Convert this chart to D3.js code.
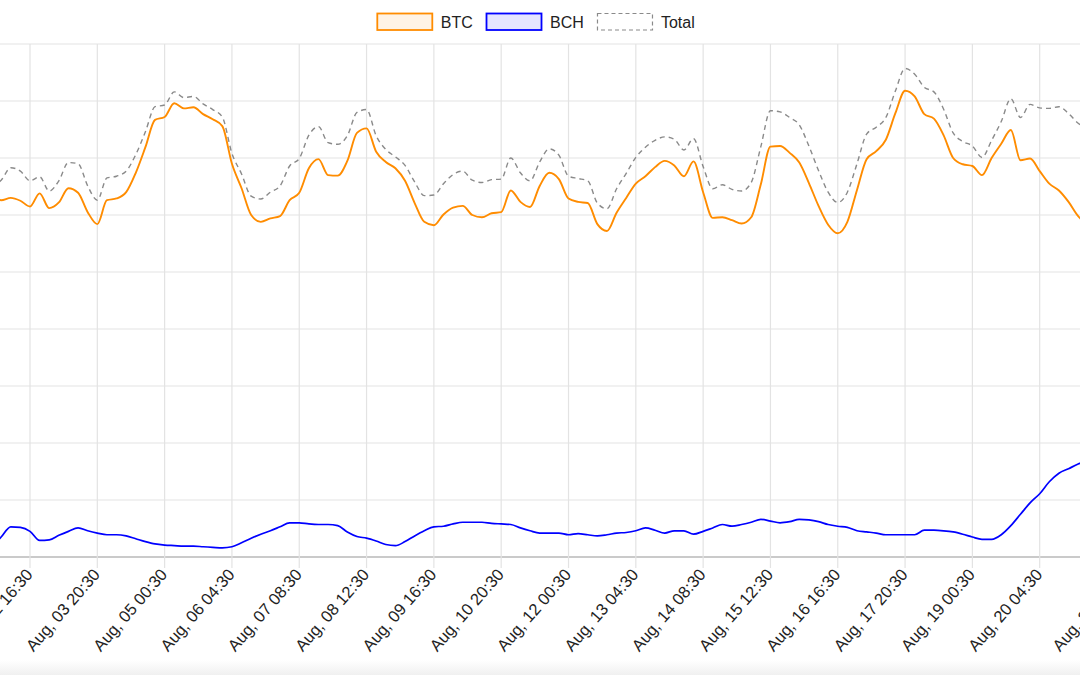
<!DOCTYPE html>
<html>
<head>
<meta charset="utf-8">
<script src="https://cdn.jsdelivr.net/npm/d3@7"></script>
<style>
  html, body { margin: 0; padding: 0; background: #fff; }
  svg { display: block; font-family: "Liberation Sans", Arial, Helvetica, sans-serif; }
</style>
</head>
<body>
<div id="chart"></div>
<script>
// Hashrate samples, every 4 hours from Aug 02 00:30 (EH/s)
const startTime = '2017-08-02 00:30';
const stepHours = 4;

const btcValues = [
  6.35, 6.26, 6.30, 6.25, 6.15, 6.38, 6.12, 6.22, 6.47, 6.39,
  6.05, 5.84, 6.26, 6.29, 6.40, 6.74, 7.19, 7.67, 7.72, 7.96,
  7.87, 7.89, 7.77, 7.68, 7.56, 6.90, 6.47, 6.00, 5.88, 5.94,
  5.98, 6.26, 6.39, 6.82, 6.98, 6.70, 6.69, 6.95, 7.44, 7.52,
  7.11, 6.93, 6.82, 6.60, 6.21, 5.88, 5.82, 6.01, 6.13, 6.16,
  6.00, 5.96, 6.03, 6.05, 6.43, 6.23, 6.14, 6.51, 6.74, 6.63,
  6.29, 6.23, 6.21, 5.84, 5.72, 6.04, 6.30, 6.55, 6.68, 6.84,
  6.95, 6.87, 6.68, 6.94, 6.40, 5.95, 5.96, 5.91, 5.85, 5.96,
  6.54, 7.20, 7.21, 7.09, 6.92, 6.56, 6.16, 5.83, 5.68, 5.88,
  6.44, 6.98, 7.12, 7.32, 7.79, 8.18, 8.08, 7.77, 7.69, 7.40,
  7.00, 6.89, 6.86, 6.70, 7.00, 7.25, 7.49, 6.96, 6.99, 6.77,
  6.55, 6.43, 6.23, 5.98, 5.82
];

const bchValues = [
  0.16, 0.35, 0.53, 0.52, 0.45, 0.29, 0.30, 0.38, 0.45, 0.51,
  0.46, 0.42, 0.39, 0.39, 0.37, 0.32, 0.27, 0.23, 0.21, 0.20,
  0.19, 0.19, 0.18, 0.17, 0.16, 0.18, 0.25, 0.33, 0.40, 0.46,
  0.53, 0.60, 0.60, 0.58, 0.57, 0.57, 0.55, 0.44, 0.36, 0.33,
  0.28, 0.22, 0.20, 0.27, 0.37, 0.46, 0.53, 0.54, 0.58, 0.61,
  0.61, 0.61, 0.59, 0.58, 0.57, 0.51, 0.46, 0.42, 0.42, 0.42,
  0.39, 0.41, 0.39, 0.37, 0.39, 0.42, 0.43, 0.46, 0.51, 0.47,
  0.42, 0.46, 0.46, 0.40, 0.45, 0.51, 0.57, 0.54, 0.57, 0.61,
  0.66, 0.63, 0.60, 0.62, 0.66, 0.65, 0.62, 0.57, 0.54, 0.52,
  0.46, 0.44, 0.42, 0.39, 0.39, 0.39, 0.39, 0.47, 0.47, 0.46,
  0.44, 0.40, 0.35, 0.31, 0.31, 0.39, 0.55, 0.75, 0.95, 1.11,
  1.32, 1.47, 1.55, 1.63, 1.70
];

const totalValues = [
  6.51, 6.61, 6.83, 6.77, 6.60, 6.67, 6.42, 6.60, 6.92, 6.90,
  6.51, 6.26, 6.65, 6.68, 6.77, 7.06, 7.46, 7.90, 7.93, 8.16,
  8.06, 8.08, 7.95, 7.85, 7.72, 7.08, 6.72, 6.33, 6.28, 6.40,
  6.51, 6.86, 6.99, 7.40, 7.55, 7.27, 7.24, 7.39, 7.80, 7.85,
  7.39, 7.15, 7.02, 6.87, 6.58, 6.34, 6.35, 6.55, 6.71, 6.77,
  6.61, 6.57, 6.62, 6.63, 7.00, 6.74, 6.60, 6.93, 7.16, 7.05,
  6.68, 6.64, 6.60, 6.21, 6.11, 6.46, 6.73, 7.01, 7.19, 7.31,
  7.37, 7.33, 7.14, 7.34, 6.85, 6.46, 6.53, 6.45, 6.42, 6.57,
  7.20, 7.83, 7.81, 7.71, 7.58, 7.21, 6.78, 6.40, 6.22, 6.40,
  6.90, 7.42, 7.54, 7.71, 8.18, 8.57, 8.47, 8.24, 8.16, 7.86,
  7.44, 7.29, 7.21, 7.01, 7.31, 7.64, 8.04, 7.71, 7.94, 7.88,
  7.87, 7.90, 7.78, 7.61, 7.52
];

// x axis tick times (28 h apart, plus the closing tick)
const tickTimes = [
  '2017-08-02 16:30', '2017-08-03 20:30', '2017-08-05 00:30', '2017-08-06 04:30',
  '2017-08-07 08:30', '2017-08-08 12:30', '2017-08-09 16:30', '2017-08-10 20:30',
  '2017-08-12 00:30', '2017-08-13 04:30', '2017-08-14 08:30', '2017-08-15 12:30',
  '2017-08-16 16:30', '2017-08-17 20:30', '2017-08-19 00:30', '2017-08-20 04:30',
  '2017-08-21 15:30'
];
const yTicks = [0, 1, 2, 3, 4, 5, 6, 7, 8, 9];

const seriesNames = ['BTC', 'BCH', 'Total'];
const seriesColors = ['#ff8c00', '#0000ff', '#8a8a8a'];
const seriesFills = ['rgba(255,140,0,0.1)', 'rgba(0,0,255,0.1)', '#ffffff'];

const width = 1080, height = 675;
const parseTime = d3.timeParse('%Y-%m-%d %H:%M');
const formatTick = d3.timeFormat('%b, %d %H:%M');

const t0 = parseTime(startTime);
const times = btcValues.map((_, i) => d3.timeHour.offset(t0, i * stepHours));
const ticks = tickTimes.map(parseTime);

// the visible area is a crop of a wider chart: y labels sit off to the left
const x = d3.scaleTime()
  .domain([ticks[0], ticks[15]])
  .range([30, 1039.7]);

const y = d3.scaleLinear()
  .domain([0, 9])
  .range([557, 44]);

const svg = d3.select('#chart').append('svg')
  .attr('width', width)
  .attr('height', height);

svg.append('rect').attr('width', width).attr('height', height).attr('fill', '#fff');

// faint bottom strip
const grad = svg.append('defs').append('linearGradient')
  .attr('id', 'foot').attr('x1', 0).attr('y1', 0).attr('x2', 0).attr('y2', 1);
grad.append('stop').attr('offset', 0).attr('stop-color', '#ffffff');
grad.append('stop').attr('offset', 1).attr('stop-color', '#f0f0f0');
svg.append('rect').attr('x', 0).attr('y', 660).attr('width', width).attr('height', 15)
  .attr('fill', 'url(#foot)');

// horizontal grid
svg.append('g').selectAll('line')
  .data(yTicks)
  .enter()
  .append('line')
  .attr('x1', 0).attr('x2', width)
  .attr('y1', d => y(d)).attr('y2', d => y(d))
  .attr('stroke', d => d === 0 ? '#b8b8b8' : '#e3e3e3')
  .attr('stroke-width', d => d === 0 ? 1.4 : 1.2);

// vertical grid with tick marks under the axis
svg.append('g').selectAll('line')
  .data(ticks)
  .enter()
  .append('line')
  .attr('x1', d => x(d)).attr('x2', d => x(d))
  .attr('y1', y(9)).attr('y2', y(0) + 11)
  .attr('stroke', '#e3e3e3')
  .attr('stroke-width', 1.2);

// rotated tick labels
svg.append('g').selectAll('text')
  .data(ticks)
  .enter()
  .append('text')
  .attr('transform', d => `translate(${x(d) + 3.5},${y(0) + 18}) rotate(-49)`)
  .attr('text-anchor', 'end')
  .attr('font-size', 16.5)
  .attr('fill', '#222')
  .text(d => formatTick(d));

function drawLine(values, color, widthPx, dash) {
  const line = d3.line()
    .x((d, i) => x(times[i]))
    .y(d => y(d))
    .curve(d3.curveMonotoneX);
  svg.append('path')
    .datum(values)
    .attr('d', line)
    .attr('fill', 'none')
    .attr('stroke', color)
    .attr('stroke-width', widthPx)
    .attr('stroke-dasharray', dash || null)
    .attr('stroke-linejoin', 'round');
}

drawLine(totalValues, seriesColors[2], 1.4, '5,4');
drawLine(btcValues, seriesColors[0], 1.9);
drawLine(bchValues, seriesColors[1], 1.7);

// legend
const legend = svg.append('g');
let lx = 377.3;
seriesNames.forEach((name, i) => {
  legend.append('rect')
    .attr('x', lx).attr('y', 13.5)
    .attr('width', 55).attr('height', 16.5)
    .attr('fill', seriesFills[i])
    .attr('stroke', seriesColors[i])
    .attr('stroke-width', i === 2 ? 1.2 : 1.8)
    .attr('stroke-dasharray', i === 2 ? '4,3' : null);
  const label = legend.append('text')
    .attr('x', lx + 63.5).attr('y', 27.8)
    .attr('font-size', 16)
    .attr('fill', '#222')
    .text(name);
  lx += 63.5 + label.node().getComputedTextLength() + 13.7;
});
</script>
</body>
</html>
